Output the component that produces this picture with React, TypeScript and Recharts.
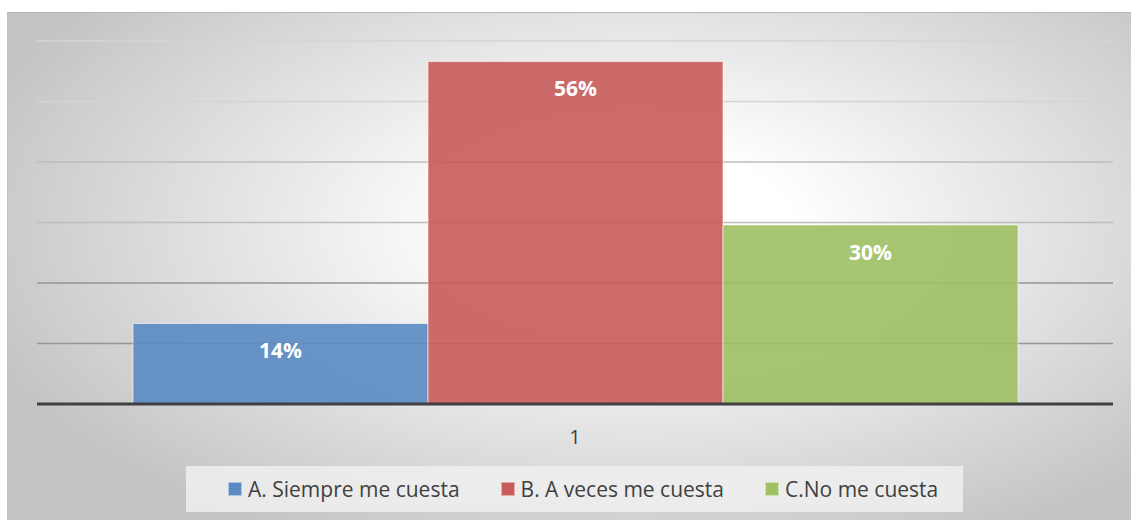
import React from 'react';
import { BarChart, Bar, XAxis, YAxis, CartesianGrid, LabelList } from 'recharts';

// one category, three answers
const categories = ['1'];
const seriesNames = ['A. Siempre me cuesta', 'B. A veces me cuesta', 'C.No me cuesta'];
// bar heights as measured against the gridlines
const seriesValues = [13.3, 56.6, 29.6];
// percentages printed on the bars
const valueLabels = ['14%', '56%', '30%'];
const yTicks = [0, 10, 20, 30, 40, 50, 60];

const COLORS = ['#5A8AC2', '#C75B59', '#9FC062'];
const KEYS = ['a', 'b', 'c'];

const data = categories.map((name) => {
  const row: Record<string, string | number> = { name };
  KEYS.forEach((k, i) => {
    row[k] = seriesValues[i];
  });
  return row;
});

const FONT = '"Open Sans", "Noto Sans", sans-serif';

// gridlines: upper ones fade into the light centre, lower ones darker
const GridLine = (props: any) => {
  const { x1, x2, y1, y2 } = props;
  const stroke = y1 < 120 ? '#d4d4d4' : y1 < 240 ? '#bdbdbd' : '#959595';
  return <line x1={x1} x2={x2} y1={y1} y2={y2} stroke={stroke} strokeWidth={1.3} />;
};

const ChartLegend = () => (
  <div
    style={{
      position: 'absolute',
      left: 178,
      top: 453,
      width: 777,
      height: 46,
      boxSizing: 'border-box',
      paddingLeft: 42,
      background: 'rgba(240,240,240,0.85)',
      display: 'flex',
      alignItems: 'center',
      fontFamily: FONT,
      fontSize: 21,
      color: '#404040',
    }}
  >
    {seriesNames.map((name, i) => (
      <div key={name} style={{ display: 'flex', alignItems: 'center', marginRight: i < 2 ? 41 : 0 }}>
        <span
          style={{
            display: 'inline-block',
            width: 12,
            height: 12,
            background: COLORS[i],
            border: '1px solid rgba(255,255,255,0.5)',
            marginRight: 6,
          }}
        />
        <span>{name}</span>
      </div>
    ))}
  </div>
);

const App: React.FC = () => {
  return (
    <div
      style={{
        position: 'absolute',
        left: 7,
        top: 12,
        width: 1124,
        height: 508,
        background: 'radial-gradient(ellipse 62% 70% at 56% 42%, #ffffff 0%, #ffffff 22%, #c4c4c4 100%)',
        borderTop: '1px solid #b8b8b8',
        borderLeft: '1px solid #c0c0c0',
        boxSizing: 'border-box',
      }}
    >
      <BarChart
        width={1123}
        height={507}
        data={data}
        margin={{ top: 28, right: 18, bottom: 66, left: 29 }}
        barCategoryGap={96}
        barGap={0}
      >
        <CartesianGrid vertical={false} horizontal={GridLine} />
        <YAxis hide domain={[0, 60]} ticks={yTicks} />
        <XAxis
          dataKey="name"
          height={50}
          tickLine={false}
          axisLine={{ stroke: '#404040', strokeWidth: 3 }}
          tick={{ fill: '#404040', fontSize: 20, fontFamily: FONT }}
          tickMargin={20}
        />
        {KEYS.map((k, i) => (
          <Bar
            key={k}
            dataKey={k}
            name={seriesNames[i]}
            fill={COLORS[i]}
            fillOpacity={0.9}
            stroke="#ffffff"
            strokeOpacity={0.6}
            strokeWidth={1}
            isAnimationActive={false}
          >
            <LabelList
              dataKey={k}
              position="insideTop"
              offset={20}
              formatter={() => valueLabels[i]}
              fill="#ffffff"
              fontSize={21}
              fontWeight="bold"
              fontFamily={FONT}
            />
          </Bar>
        ))}
      </BarChart>
      <ChartLegend />
    </div>
  );
};

export default App;
